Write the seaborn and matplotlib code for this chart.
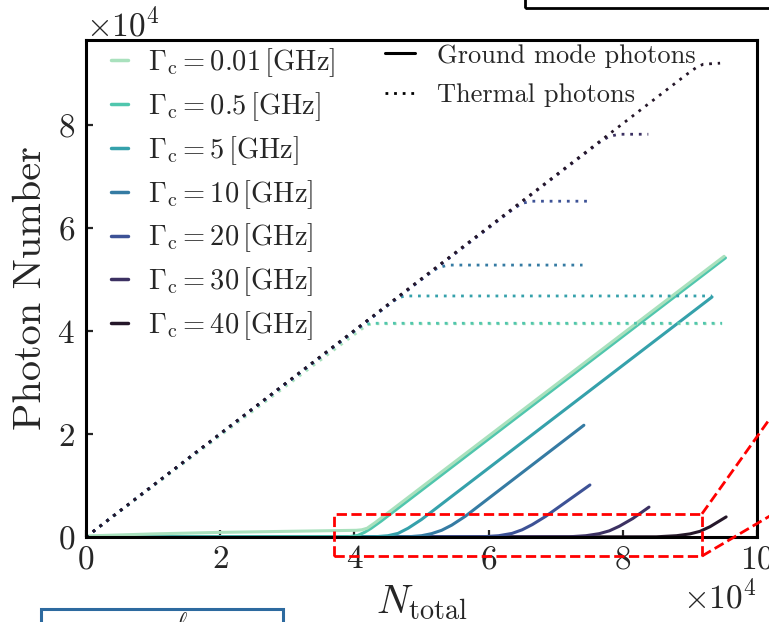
import numpy as np
import pandas as pd
import matplotlib
matplotlib.use("Agg")
import matplotlib.pyplot as plt
from matplotlib.lines import Line2D
from matplotlib.patches import Rectangle
from matplotlib.ticker import ScalarFormatter
import seaborn as sns

# ---------------- data (values in units of 1e4 photons) ----------------
gamma_labels = ["0.01", "0.5", "5", "10", "20", "30", "40"]

# ground-mode photons (solid)
g001_ground_x = [0, 1.0, 2.0, 3.0, 4.03, 4.11, 4.19, 4.31, 9.51]
g001_ground_y = [0.02, 0.06, 0.09, 0.11, 0.13, 0.14, 0.17, 0.28, 5.45]
g05_ground_x = [0, 3.9, 4.05, 4.15, 4.25, 4.4, 9.53]
g05_ground_y = [0, 0.003, 0.03, 0.09, 0.17, 0.31, 5.42]
g5_ground_x = [0, 4.3, 4.5, 4.65, 4.8, 5.0, 9.33]
g5_ground_y = [0, 0.004, 0.025, 0.07, 0.17, 0.34, 4.66]
g10_ground_x = [0, 4.8, 5.0, 5.15, 5.3, 5.45, 5.65, 7.42]
g10_ground_y = [0, 0.004, 0.025, 0.065, 0.13, 0.23, 0.4, 2.17]
g20_ground_x = [0, 5.9, 6.15, 6.35, 6.5, 6.65, 6.85, 7.51]
g20_ground_y = [0, 0.004, 0.025, 0.07, 0.14, 0.24, 0.4, 1.01]
g30_ground_x = [0, 7.2, 7.45, 7.65, 7.8, 7.95, 8.15, 8.39]
g30_ground_y = [0, 0.004, 0.025, 0.065, 0.12, 0.21, 0.36, 0.58]
g40_ground_x = [0, 8.5, 8.8, 9.0, 9.15, 9.3, 9.54]
g40_ground_y = [0, 0.004, 0.025, 0.06, 0.11, 0.2, 0.39]

# thermal photons (dotted)
g001_thermal_x = [0, 4.1, 4.2, 4.3, 9.48]
g001_thermal_y = [0, 4.03, 4.12, 4.14, 4.14]
g05_thermal_x = [0, 4.05, 4.15, 4.25, 9.48]
g05_thermal_y = [0, 4.05, 4.12, 4.15, 4.15]
g5_thermal_x = [0, 4.55, 4.65, 4.75, 9.33]
g5_thermal_y = [0, 4.55, 4.64, 4.68, 4.68]
g10_thermal_x = [0, 5.1, 5.25, 5.4, 7.4]
g10_thermal_y = [0, 5.1, 5.23, 5.28, 5.28]
g20_thermal_x = [0, 6.35, 6.5, 6.65, 7.48]
g20_thermal_y = [0, 6.35, 6.48, 6.52, 6.52]
g30_thermal_x = [0, 7.65, 7.8, 7.95, 8.38]
g30_thermal_y = [0, 7.66, 7.78, 7.82, 7.82]
g40_thermal_x = [0, 8.95, 9.1, 9.2, 9.45]
g40_thermal_y = [0, 8.98, 9.12, 9.18, 9.2]

UNIT = 1e4

ground_sets = [(g001_ground_x, g001_ground_y), (g05_ground_x, g05_ground_y),
               (g5_ground_x, g5_ground_y), (g10_ground_x, g10_ground_y),
               (g20_ground_x, g20_ground_y), (g30_ground_x, g30_ground_y),
               (g40_ground_x, g40_ground_y)]
thermal_sets = [(g001_thermal_x, g001_thermal_y), (g05_thermal_x, g05_thermal_y),
                (g5_thermal_x, g5_thermal_y), (g10_thermal_x, g10_thermal_y),
                (g20_thermal_x, g20_thermal_y), (g30_thermal_x, g30_thermal_y),
                (g40_thermal_x, g40_thermal_y)]

rows = []
for g, (gx, gy), (tx, ty) in zip(gamma_labels, ground_sets, thermal_sets):
    for i, (a, b) in enumerate(zip(gx, gy)):
        rows.append(dict(gamma=g, kind="ground", idx=i, x=a * UNIT, y=b * UNIT))
    for i, (a, b) in enumerate(zip(tx, ty)):
        rows.append(dict(gamma=g, kind="thermal", idx=i, x=a * UNIT, y=b * UNIT))
df = pd.DataFrame(rows)

# ---------------- style ----------------
sns.set_style("ticks")
plt.rcParams["font.family"] = "serif"
plt.rcParams["font.serif"] = ["cmr10"]
plt.rcParams["mathtext.fontset"] = "cm"
plt.rcParams["axes.formatter.use_mathtext"] = True
plt.rcParams["axes.unicode_minus"] = False

cmap = sns.color_palette("mako", as_cmap=True)
colors = [cmap(v) for v in np.linspace(0.9, 0.1, 7)]
DOT = (0, (1, 2.1))

fig = plt.figure(figsize=(7.69, 6.22), dpi=100)
ax = fig.add_axes([86 / 769, 1 - 537 / 622, (757 - 86) / 769, (537 - 40) / 622])

for g, c in list(zip(gamma_labels, colors))[::-1]:
    sub = df[(df.gamma == g) & (df.kind == "ground")]
    sns.lineplot(data=sub, x="x", y="y", ax=ax, color=c, lw=2.2, sort=False,
                 estimator=None, legend=False, solid_capstyle="round")
for g, c in zip(gamma_labels, colors):
    sub = df[(df.gamma == g) & (df.kind == "thermal")]
    sns.lineplot(data=sub, x="x", y="y", ax=ax, color=c, lw=2.0, sort=False,
                 estimator=None, legend=False, linestyle=DOT)

ax.set_xlim(0, 10 * UNIT)
ax.set_ylim(0, 9.65 * UNIT)
ax.set_xticks(np.arange(0, 10.1, 2) * UNIT)
ax.set_yticks(np.arange(0, 8.1, 2) * UNIT)
for axis in (ax.xaxis, ax.yaxis):
    fmt = ScalarFormatter(useMathText=True)
    fmt.set_powerlimits((4, 4))
    axis.set_major_formatter(fmt)
ax.tick_params(direction="in", length=5, width=1.6, labelsize=24)
ax.tick_params(axis="x", pad=6)
ax.tick_params(axis="y", pad=8)
ax.xaxis.get_offset_text().set_fontsize(24)
ax.yaxis.get_offset_text().set_fontsize(24)
for s in ax.spines.values():
    s.set_linewidth(2.2)
    s.set_color("black")

ax.set_xlabel(r"$N_{\rm total}$", fontsize=29, labelpad=6)
ax.set_ylabel("Photon Number", fontsize=29, labelpad=6)

# legends
h1 = [Line2D([], [], color=c, lw=2.5) for c in colors]
l1 = [r"$\Gamma_{\rm c} = %s\,[\mathrm{GHz}]$" % g for g in gamma_labels]
leg1 = ax.legend(h1, l1, loc="upper left", bbox_to_anchor=(0.037, 0.988),
                 frameon=False, fontsize=20.5, handlelength=0.6, handletextpad=0.7,
                 labelspacing=0.39, borderpad=0, borderaxespad=0)
ax.add_artist(leg1)
h2 = [Line2D([], [], color="black", lw=2.2),
      Line2D([], [], color="black", lw=2.0, linestyle=DOT)]
l2 = ["Ground mode photons", "Thermal photons"]
ax.legend(h2, l2, loc="upper left", bbox_to_anchor=(0.446, 0.992), frameon=False,
          fontsize=19, handlelength=1.14, handletextpad=0.83, labelspacing=0.58,
          borderpad=0, borderaxespad=0)

# zoom indicator (red dashed box and connectors)
ax.add_patch(Rectangle((3.7 * UNIT, -0.37 * UNIT), 5.48 * UNIT, 0.82 * UNIT,
                       fill=False, ec="red", ls="--", lw=2.0, clip_on=False, zorder=6))
ax.plot([9.18 * UNIT, 10.5 * UNIT], [0.45 * UNIT, 2.86 * UNIT], color="red", ls="--",
        lw=2.0, clip_on=False, zorder=6)
ax.plot([9.18 * UNIT, 10.5 * UNIT], [-0.37 * UNIT, 0.645 * UNIT], color="red", ls="--",
        lw=2.0, clip_on=False, zorder=6)

# neighbouring panels from the larger figure (partially visible)
fig.add_artist(Rectangle((525 / 769, 1 - 8 / 622), 0.5, 0.2, transform=fig.transFigure,
                         fill=False, ec="black", lw=2.0))
fig.add_artist(Rectangle((41 / 769, -0.2), (283 - 41) / 769, 0.2 + 1 - 609 / 622,
                         transform=fig.transFigure, fill=False, ec="#2d6a9f", lw=2.2))
fig.text(176 / 769, 1 - 612 / 622, r"$\ell$", fontsize=18, va="top", ha="left")

fig.savefig("out.png", dpi=100)
